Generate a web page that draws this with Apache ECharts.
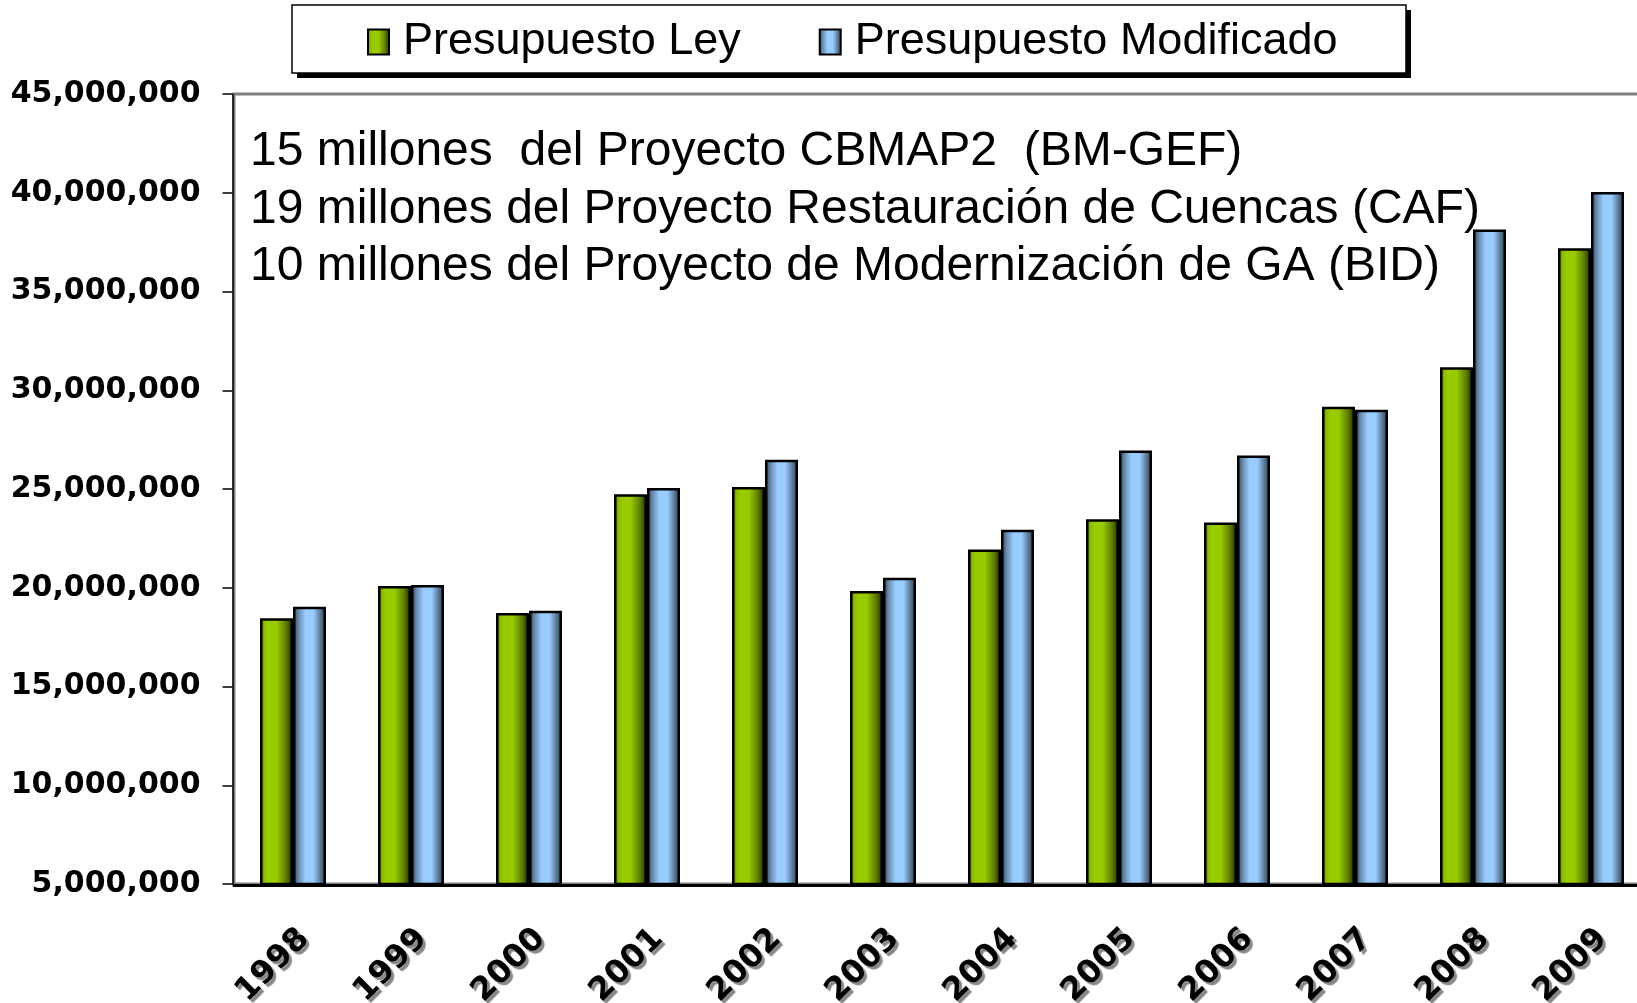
<!DOCTYPE html>
<html lang="es" style="height: 100%">
<head>
    <meta charset="utf-8"/>
    <meta name="viewport" content="width=device-width, initial-scale=1.0"/>
</head>
<body style="height: 100%; margin: 0; overflow: hidden; background: #fff">
<!-- el area de trazado sigue un poco mas alla del borde derecho, como en el original -->
<div id="container" style="height: 100%; width: 1650px"></div>

<script type="text/javascript" src="https://cdn.jsdelivr.net/npm/echarts@6/dist/echarts.min.js"></script>

<script type="text/javascript">
    // datos
    var years = ["1998", "1999", "2000", "2001", "2002", "2003", "2004", "2005", "2006", "2007", "2008", "2009"];
    var presupuestoLey = [18460000, 20090000, 18720000, 24740000, 25100000, 19830000, 21940000, 23470000, 23310000, 29170000, 31170000, 37190000];
    var presupuestoModificado = [19040000, 20140000, 18830000, 25050000, 26480000, 20510000, 22940000, 26950000, 26690000, 29010000, 38140000, 40040000];
    var yMin = 5000000, yMax = 45000000, yStep = 5000000;
    var notas = [
        "15 millones  del Proyecto CBMAP2  (BM-GEF)",
        "19 millones del Proyecto Restauración de Cuencas (CAF)",
        "10 millones del Proyecto de Modernización de GA (BID)"
    ];

    var dom = document.getElementById("container");
    var myChart = echarts.init(dom, null, {renderer: "canvas"});

    // sombreado tipo cilindro
    var verde = new echarts.graphic.LinearGradient(0, 0, 1, 0, [
        {offset: 0, color: "#3d5200"},
        {offset: 0.12, color: "#8ab800"},
        {offset: 0.25, color: "#99cc00"},
        {offset: 0.5, color: "#99cc00"},
        {offset: 0.8, color: "#5c7a00"},
        {offset: 1, color: "#1a2300"}
    ]);
    var azul = new echarts.graphic.LinearGradient(0, 0, 1, 0, [
        {offset: 0, color: "#2e3d4d"},
        {offset: 0.18, color: "#6b8fb3"},
        {offset: 0.38, color: "#99ccff"},
        {offset: 0.62, color: "#99ccff"},
        {offset: 0.88, color: "#4d6680"},
        {offset: 1, color: "#26333f"}
    ]);

    var graphics = [
        // sombra de la leyenda
        {type: "rect", shape: {x: 297, y: 10, width: 1114, height: 68}, style: {fill: "#000"}, silent: true},
        {type: "rect", shape: {x: 292, y: 5, width: 1114, height: 68}, style: {fill: "#fff", stroke: "#000", lineWidth: 1.5}, silent: true}
    ];
    notas.forEach(function (t, i) {
        graphics.push({
            type: "text",
            style: {
                x: 250, y: 152 + i * 57.5, text: t,
                font: "48px 'Liberation Sans', Arial, sans-serif",
                fill: "#000", verticalAlign: "middle", textVerticalAlign: "middle"
            },
            silent: true
        });
    });

    var option = {
        animation: false,
        backgroundColor: "#fff",
        graphic: graphics,
        legend: {
            left: 367,
            top: 17,
            padding: 0,
            icon: "rect",
            itemWidth: 21,
            itemHeight: 25,
            itemGap: 78,
            itemStyle: {borderColor: "#000", borderWidth: 2},
            textStyle: {
                fontFamily: "'Liberation Sans', Arial",
                fontSize: 45,
                lineHeight: 50,
                color: "#000",
                padding: [0, 0, 0, 9]
            },
            data: ["Presupuesto Ley", "Presupuesto Modificado"]
        },
        // borde gris del area de trazado
        grid: {left: 234, top: 94, right: 0, height: 790, containLabel: false,
            outerBoundsMode: "none",
            show: true, borderColor: "#808080", borderWidth: 3},
        xAxis: {
            type: "category",
            data: years,
            offset: 1.5,
            axisLine: {lineStyle: {color: "#000", width: 3}},
            axisTick: {length: 12, lineStyle: {color: "#000", width: 1.5}},
            axisLabel: {
                rotate: 45,
                margin: 37,
                verticalAlign: "top",
                fontFamily: "'DejaVu Sans', sans-serif",
                fontWeight: "bold",
                fontSize: 32,
                color: "#000",
                textShadowColor: "#888",
                textShadowBlur: 1,
                textShadowOffsetX: 3,
                textShadowOffsetY: 3
            }
        },
        yAxis: {
            type: "value",
            min: yMin,
            max: yMax,
            interval: yStep,
            offset: 1.5,
            splitLine: {show: false},
            axisLine: {show: true, lineStyle: {color: "#000", width: 1.5}},
            axisTick: {show: true, length: 10, lineStyle: {color: "#000", width: 1.5}},
            axisLabel: {
                margin: 32,
                fontFamily: "'DejaVu Sans', sans-serif",
                fontWeight: "bold",
                fontSize: 30,
                color: "#000",
                formatter: function (v) {
                    return String(v).replace(/\B(?=(\d{3})+(?!\d))/g, ",");
                }
            }
        },
        series: [
            {
                name: "Presupuesto Ley",
                type: "bar",
                barWidth: 33,
                barGap: "0%",
                itemStyle: {color: verde, borderColor: "#000", borderWidth: 2.5},
                data: presupuestoLey
            },
            {
                name: "Presupuesto Modificado",
                type: "bar",
                barWidth: 33,
                barGap: "0%",
                itemStyle: {color: azul, borderColor: "#000", borderWidth: 2.5},
                data: presupuestoModificado
            }
        ]
    };

    myChart.setOption(option);
    window.addEventListener("resize", myChart.resize);
</script>
</body>
</html>
